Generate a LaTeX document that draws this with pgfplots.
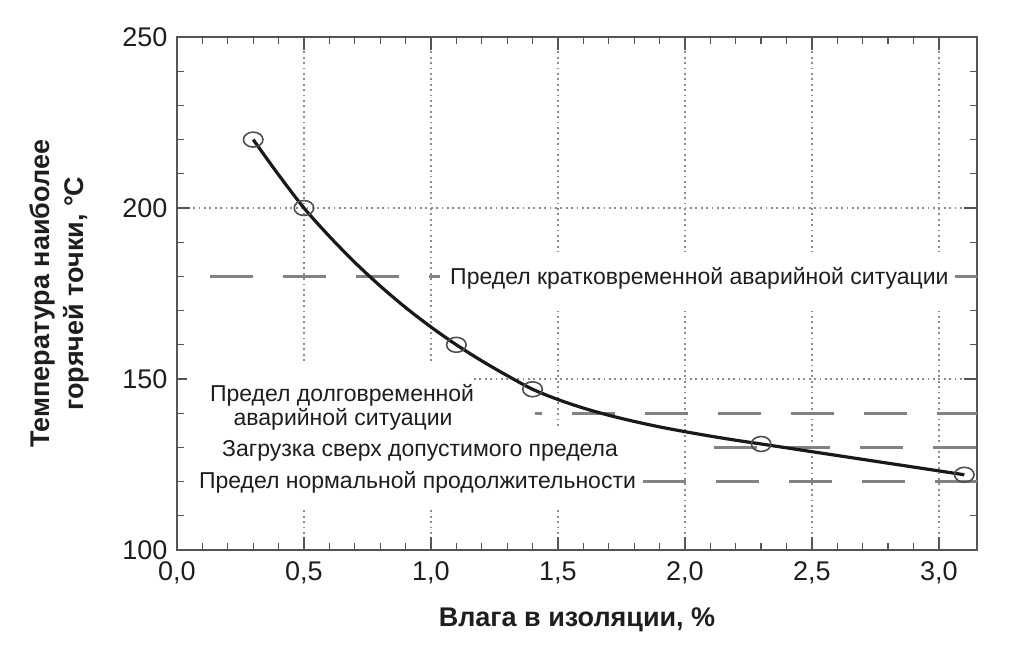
\documentclass[border=0pt]{standalone}
\usepackage{fontspec}
\setmainfont{Liberation Sans}
\usepackage{pgfplots}
\pgfplotsset{compat=1.18}

\definecolor{framegray}{RGB}{85,85,85}
\definecolor{gridgray}{RGB}{140,140,140}
\definecolor{limitgray}{RGB}{130,130,130}
\definecolor{markgray}{RGB}{80,80,80}
\definecolor{textgray}{RGB}{30,30,30}

\begin{document}
\begin{tikzpicture}
\path[use as bounding box] (-177pt,-108pt) rectangle (847pt,550pt);
\begin{axis}[
    scale only axis,
    width=800pt, height=513pt,
    xmin=0, xmax=3.15,
    ymin=100, ymax=250,
    xtick={0,0.5,1,1.5,2,2.5,3},
    ytick={100,150,200,250},
    minor x tick num=4,
    minor y tick num=4,
    tick align=inside,
    major tick length=13pt,
    minor tick length=7pt,
    every tick/.style={framegray, line width=1.3pt},
    axis line style={framegray, line width=2pt},
    grid=major,
    major grid style={gridgray, line width=1.8pt, dash pattern=on 1.8pt off 3.6pt},
    /pgf/number format/assume math mode=true,
    /pgf/number format/use comma,
    xticklabel style={/pgf/number format/fixed, /pgf/number format/fixed zerofill,
        /pgf/number format/precision=1, yshift=-8pt},
    yticklabel style={xshift=-6pt},
    ticklabel style={font=\fontsize{27}{31}\selectfont, text=textgray},
    xlabel={Влага в изоляции, \%},
    ylabel={Температура наиболее\\горячей точки, °C},
    x label style={at={(axis description cs:0.5,-0.150)}, anchor=base,
        font=\bfseries\fontsize{27}{32}\selectfont, text=textgray},
    y label style={at={(axis description cs:-0.147,0.5)}, anchor=center, align=center,
        font=\bfseries\fontsize{27}{34}\selectfont, text=textgray},
    clip=false,
]

% limit lines
\addplot[limitgray, line width=3pt, dash pattern=on 43pt off 30pt] coordinates {(0.13,180) (3.15,180)};
\addplot[limitgray, line width=3pt, dash pattern=on 43pt off 30pt, dash phase=36pt] coordinates {(1.41,140) (3.15,140)};
\addplot[limitgray, line width=3pt, dash pattern=on 43pt off 30pt] coordinates {(2.114,130) (3.15,130)};
\addplot[limitgray, line width=3pt, dash pattern=on 43pt off 30pt] coordinates {(1.835,120) (3.15,120)};

% white areas behind the labels
\fill[white] (axis cs:1.035,171.1) rectangle (axis cs:3.063,187.1);
\fill[white] (axis cs:0.04,112.3) rectangle (axis cs:1.165,155);
\fill[white] (axis cs:1.165,112.3) rectangle (axis cs:1.83,135.7);

\begin{scope}[every node/.style={font=\fontsize{23}{27}\selectfont, text=textgray, inner sep=0pt}]
\node[anchor=base west] at (axis cs:1.075,177.5) {Предел кратковременной аварийной ситуации};
\node[anchor=base] at (axis cs:0.650,143.3) {Предел долговременной};
\node[anchor=base] at (axis cs:0.654,136.5) {аварийной ситуации};
\node[anchor=base] at (axis cs:0.957,127.2) {Загрузка сверх допустимого предела};
\node[anchor=base] at (axis cs:0.947,118.1) {Предел нормальной продолжительности};
\end{scope}

% measured points
\addplot[only marks, mark=o, mark size=8.5pt, markgray,
    mark options={xscale=1.15, yscale=0.88, line width=1.6pt}]
    coordinates {(0.3,220) (0.5,200) (1.1,160) (1.4,147) (2.3,131) (3.1,122)};

% curve through the points
\addplot[black!90, line width=3.2pt, smooth]
    coordinates {
    (0.3,220) (0.4,209.7) (0.5,200) (0.6,191.7) (0.7,184.1) (0.8,177.2)
    (0.9,170.9) (1.0,165.2) (1.1,160) (1.2,155.3) (1.3,151) (1.4,147)
    (1.5,144) (1.6,141.5) (1.7,139.4) (1.8,137.6) (1.9,136) (2.0,134.6)
    (2.1,133.3) (2.2,132.1) (2.3,131) (2.5,128.75) (2.7,126.5) (2.9,124.25)
    (3.1,122)
    };

\end{axis}
\end{tikzpicture}
\end{document}
